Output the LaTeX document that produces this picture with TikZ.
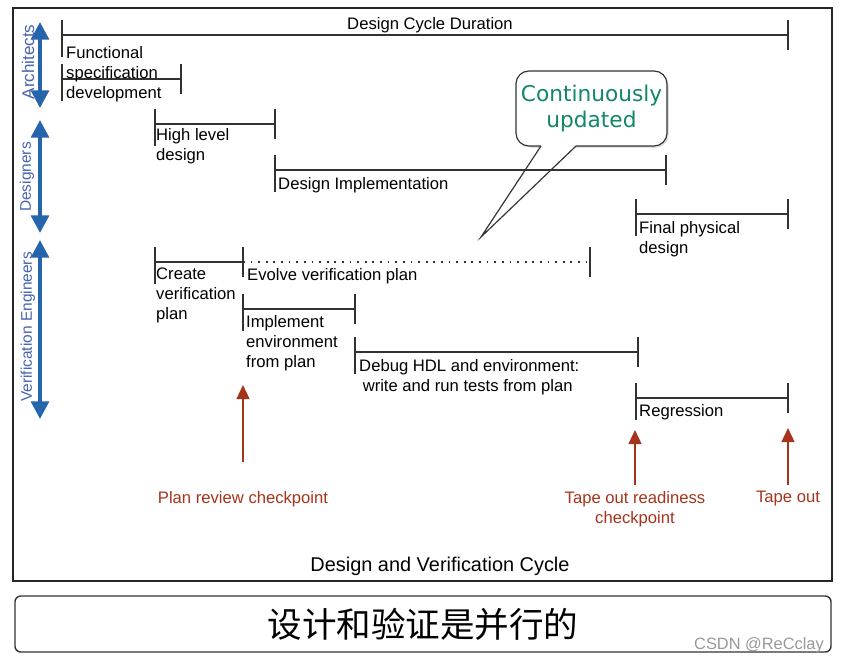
\documentclass[tikz,border=0pt]{standalone}
\usepackage{fontspec}
\setmainfont{Liberation Sans}
\newfontfamily\calloutfont{DejaVu Sans}
\newfontfamily\cjk{Noto Sans CJK SC}
\usepackage{xcolor}
\usepackage{tikz}
\usetikzlibrary{arrows.meta, positioning}
\usetikzlibrary{shadows}

\definecolor{roleblue}{RGB}{38,100,172}
\definecolor{rolelabel}{RGB}{70,100,175}
\definecolor{checkred}{RGB}{165,52,28}
\definecolor{callgreen}{RGB}{18,135,105}
\definecolor{barcol}{RGB}{50,50,50}

\begin{document}
\begin{tikzpicture}[x=0.03cm, y=-0.03cm,
    bar/.style={line width=1.4pt, draw=barcol},
    lbl/.style={anchor=north west, inner sep=0pt, align=left, font=\fontsize{14.2}{17}\selectfont},
    role/.style={draw=roleblue, line width=3.4pt, {Triangle[width=15pt,length=15pt]}-{Triangle[width=15pt,length=15pt]}},
    rolelbl/.style={rotate=90, inner sep=0pt, text=rolelabel, font=\fontsize{13.2}{15}\selectfont},
    check/.style={draw=checkred, line width=1.6pt, -{Triangle[width=11pt,length=12pt]}},
    checklbl/.style={anchor=north, inner sep=0pt, align=center, text=checkred, font=\fontsize{14.2}{17}\selectfont}]
        \path[use as bounding box, fill=white] (0,0) rectangle (844,666);

        % Outer frame
        \draw[line width=1.3pt, draw=black!85] (13,8) rectangle (832,581);

        % Time spans: name/start/end/row
        \foreach \nm/\xa/\xb/\yy in {cycle/62/788/35, spec/62/181/79, hld/155/275/124,
            impl/275/666/170, phys/636/788/214, plan/155/243/262, env/243/355/309,
            dbg/355/638/352, regr/636/788/398} {
          \coordinate (\nm-s) at (\xa,\yy);
          \coordinate (\nm-e) at (\xb,\yy);
          \draw[bar] (\nm-s) -- (\nm-e);
          \draw[bar] (\nm-s) ++(0,-15) -- ++(0,37);
          \draw[bar] (\nm-e) ++(0,-15) -- ++(0,30);
        }

        % Evolving plan (dotted)
        \coordinate (evo-e) at (590,262);
        \draw[bar, dash pattern=on 1.5pt off 5pt] (plan-e) -- (evo-e);
        \draw[bar] (evo-e) ++(0,-15) -- ++(0,30);

        % Span labels
        \node[lbl, anchor=base] (cycle-lbl) at (430,29) {Design Cycle Duration};
        \node[lbl] (spec-lbl) at (66,46) {Functional\\specification\\development};
        \node[lbl] (hld-lbl) at (156,128) {High level\\design};
        \node[lbl] (impl-lbl) at (278,177) {Design Implementation};
        \node[lbl] (phys-lbl) at (639,221) {Final physical\\design};
        \node[lbl] (plan-lbl) at (156,268) {Create\\verification\\plan};
        \node[lbl] (evo-lbl) at (247,268) {Evolve verification plan};
        \node[lbl] (env-lbl) at (246,315) {Implement\\environment\\from plan};
        \node[lbl] (dbg-lbl) at (359,359) {Debug HDL and environment:\\\hspace*{3pt}write and run tests from plan};
        \node[lbl] (regr-lbl) at (639,404) {Regression};

        % Roles
        \coordinate (arch-top) at (40,22);
        \coordinate (arch-bot) at (40,108);
        \draw[role] (arch-top) -- (arch-bot);
        \node[rolelbl, font=\fontsize{14.5}{16}\selectfont] (arch-lbl) at (28,62) {Architects};
        \coordinate (des-top) at (40,120);
        \coordinate (des-bot) at (40,233);
        \draw[role] (des-top) -- (des-bot);
        \node[rolelbl] (des-lbl) at (27,177) {Designers};
        \coordinate (ver-top) at (40,240);
        \coordinate (ver-bot) at (40,419);
        \draw[role] (ver-top) -- (ver-bot);
        \node[rolelbl] (ver-lbl) at (28,327) {Verification Engineers};

        % Checkpoints
        \node[checklbl] (prc) at (243,491) {Plan review checkpoint};
        \coordinate (prc-tip) at (243,385);
        \draw[check, shorten <=25pt] (prc) -- (prc-tip);
        \node[checklbl] (tor) at (635,491) {Tape out readiness\\checkpoint};
        \coordinate (tor-tip) at (635,430);
        \draw[check, shorten <=5pt] (tor) -- (tor-tip);
        \node[checklbl] (tape) at (788,491) {Tape out};
        \coordinate (tape-tip) at (788,428);
        \draw[check, shorten <=5pt] (tape) -- (tape-tip);

        % Callout
        \node[draw=black!80, line width=1pt, fill=white, rounded corners=11pt,
              minimum width=4.53cm, minimum height=2.25cm,
              drop shadow={opacity=0.25, shadow xshift=1.5pt, shadow yshift=-1.5pt},
              align=center, text=callgreen, font=\calloutfont\fontsize{18.5}{22}\selectfont]
              (note) at (591.5,108.5) {Continuously\\updated};
        \coordinate (ptr-a) at (541,146);
        \coordinate (ptr-b) at (576,146);
        \coordinate (tip) at (481,237);
        \fill[white] ([yshift=2pt]ptr-a) rectangle ([yshift=-2.2pt]ptr-b);
        \draw[draw=black!80, line width=1pt] (ptr-a) -- (tip) -- (ptr-b);

        % Caption
        \node[font=\fontsize{17}{20}\selectfont] (title) at (440,566) {Design and Verification Cycle};

        % Summary box
        \node[draw=black!80, line width=1.2pt, rounded corners=5pt,
              minimum width=24.48cm, minimum height=1.68cm,
              font=\cjk\fontsize{29.5}{32}\selectfont] (summary) at (423,624) {设计和验证是并行的};
        \node[text=black!40, font=\fontsize{14}{16}\selectfont] (mark) at (759,645) {CSDN @ReCclay};
    \end{tikzpicture}
\end{document}
